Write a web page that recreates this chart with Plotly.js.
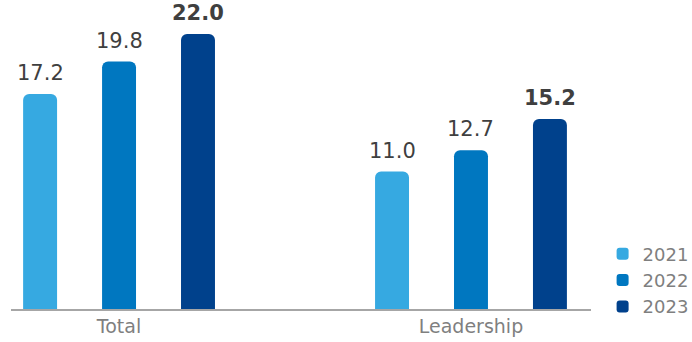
<!DOCTYPE html>
<html>
<head>
<meta charset="utf-8">
<script src="https://cdn.plot.ly/plotly-3.0.1.min.js"></script>
<style>html,body{margin:0;padding:0;background:#fff;}#chart{width:692px;height:342px;}</style>
</head>
<body>
<div id="chart"></div>
<script>
const categories = ["Total", "Leadership"];
const seriesNames = ["2021", "2022", "2023"];
const values2021 = [17.2, 11.0];
const values2022 = [19.8, 12.7];
const values2023 = [22.0, 15.2];
const colors = ["#36a9e1", "#0077c0", "#00418c"];

const seriesValues = [values2021, values2022, values2023];
const BARGAP = 0.327;
const BARGROUPGAP = 0.57;
const slot = (1 - BARGAP) / seriesValues.length;

const traces = seriesValues.map((vals, i) => ({
  type: "bar",
  name: seriesNames[i],
  x: categories,
  y: vals,
  marker: {color: colors[i], cornerradius: 6},
  hoverinfo: "skip"
}));

// value labels placed above each bar, positions derived from data + group layout
const annotations = [];
seriesValues.forEach((vals, i) => {
  const off = (i - (seriesValues.length - 1) / 2) * slot;
  vals.forEach((v, c) => {
    annotations.push({
      xref: "x", yref: "y",
      x: c + off, y: v,
      text: i === 2 ? "<b>" + v.toFixed(1) + "</b>" : v.toFixed(1),
      showarrow: false,
      xanchor: "center", yanchor: "bottom",
      borderpad: 0, borderwidth: 0,
      yshift: 9,
      font: {family: "DejaVu Sans", size: 21, color: "#3f3f3f"}
    });
  });
});

const layout = {
  width: 692, height: 342,
  margin: {l: 11, r: 101, t: 10, b: 33, autoexpand: false},
  paper_bgcolor: "#ffffff", plot_bgcolor: "#ffffff",
  font: {family: "DejaVu Sans", color: "#7f7f7f"},
  barmode: "group",
  bargap: BARGAP,
  bargroupgap: BARGROUPGAP,
  showlegend: true,
  legend: {
    x: 1.02, xanchor: "left", y: -0.055, yanchor: "bottom",
    font: {family: "DejaVu Sans", size: 18, color: "#7f7f7f"},
    tracegroupgap: 0, itemwidth: 30, bgcolor: "rgba(0,0,0,0)"
  },
  annotations: annotations,
  xaxis: {
    type: "category",
    range: [-0.307, 1.341],
    showline: true, linecolor: "#a6a6a6", linewidth: 1.5,
    ticks: "", showgrid: false, zeroline: false,
    tickfont: {family: "DejaVu Sans", size: 19, color: "#7f7f7f"}
  },
  yaxis: {
    range: [0, 23.92],
    visible: false, showgrid: false, zeroline: false
  }
};

Plotly.newPlot("chart", traces, layout, {displayModeBar: false, staticPlot: true});
</script>
</body>
</html>
